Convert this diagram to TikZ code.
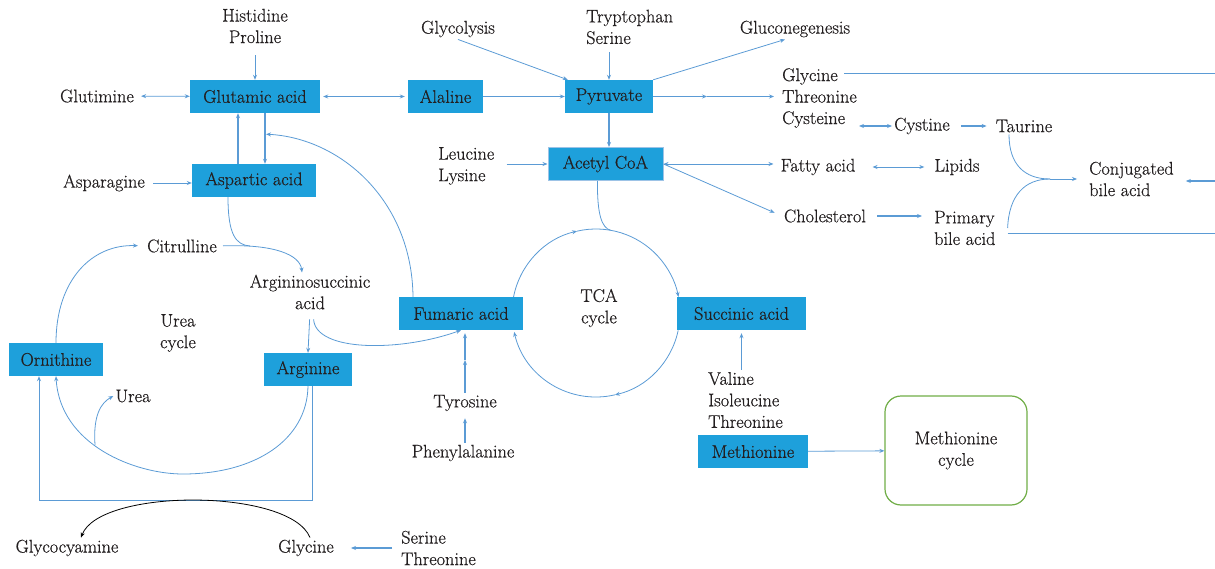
\documentclass[tikz,border=0pt]{standalone}
\usepackage{fontspec}
\setmainfont{Latin Modern Roman}[FakeBold=0.5]
\usepackage{tikz}
\usetikzlibrary{arrows.meta}
\definecolor{boxblue}{RGB}{30,160,219}
\definecolor{linkblue}{RGB}{91,155,213}
\definecolor{edgeblue}{RGB}{157,195,230}
\definecolor{cyclegreen}{RGB}{112,173,71}
\definecolor{txt}{RGB}{35,31,32}
\tikzset{
  box/.style={fill=boxblue,text=txt,minimum height=33pt,minimum width=#1,inner xsep=4pt},
  lbl/.style={text=txt,align=center,inner sep=2pt},
  link/.style={draw=linkblue,line width=0.8pt},
  arr/.style={link,->},
  thk/.style={line width=1.6pt},
}

\begin{document}
\begin{tikzpicture}[x=1pt,y=-1pt,>={Stealth[length=5pt,width=4pt]},
  every node/.append style={font=\fontsize{18.3}{21.5}\selectfont}]
\useasboundingbox (0,0) rectangle (1215,569);

% boxes
\node[box=130pt] (glu) at (255,96.5) {Glutamic acid};
\node[box=75pt] (ala) at (445.5,96.5) {Alaline};
\node[box=88pt] (pyr) at (609,96.5) {Pyruvate};
\node[box=124pt] (asp) at (254,180.5) {Aspartic acid};
\node[box=115pt,draw=edgeblue,line width=1pt] (aco) at (605.5,164) {Acetyl CoA};
\node[box=124pt] (fum) at (461,313.5) {Fumaric acid};
\node[box=129pt] (suc) at (741.5,313.5) {Succinic acid};
\node[box=94pt] (orn) at (56,359.5) {Ornithine};
\node[box=88pt] (arg) at (308,369.5) {Arginine};
\node[box=110pt] (met) at (753,451.5) {Methionine};
\node[lbl,draw=cyclegreen,line width=1.2pt,rounded corners=16pt,
  minimum width=142pt,minimum height=109pt] (metc) at (956,450.5) {Methionine\\cycle};

% labels
\node[lbl] (hp) at (255,26) {Histidine\\Proline};
\node[lbl] (glm) at (97,96) {Glutimine};
\node[lbl] (asn) at (104,183) {Asparagine};
\node[lbl] (gly) at (458,29) {Glycolysis};
\node[lbl,align=left,anchor=west] (trp) at (584,27) {Tryptophan\\Serine};
\node[lbl] (glc) at (795,29) {Gluconegenesis};
\node[lbl,align=left,anchor=west] (gtc) at (780,98) {Glycine\\Threonine\\Cysteine};
\node[lbl] (cys) at (922,126) {Cystine};
\node[lbl] (tau) at (1024,126) {Taurine};
\node[lbl] (fat) at (818,167) {Fatty acid};
\node[lbl] (lip) at (957,167) {Lipids};
\node[lbl] (chol) at (825,216) {Cholesterol};
\node[lbl,align=left,anchor=west] (pba) at (932,228) {Primary\\bile acid};
\node[lbl,align=left,anchor=west] (cba) at (1087,179) {Conjugated\\bile acid};
\node[lbl,align=left,anchor=west] (ll) at (436,166) {Leucine\\Lysine};
\node[lbl] (cit) at (182,246) {Citrulline};
\node[lbl] (asa) at (310,292) {Argininosuccinic\\acid};
\node[lbl] (uc) at (178,333) {Urea\\cycle};
\node[lbl] (tca) at (599,308) {TCA\\cycle};
\node[lbl] (urea) at (133,396) {Urea};
\node[lbl] (tyr) at (465,403) {Tyrosine};
\node[lbl] (phe) at (463,453) {Phenylalanine};
\node[lbl,align=left,anchor=west] (vit) at (706,400) {Valine\\Isoleucine\\Threonine};
\node[lbl] (gcy) at (67,548) {Glycocyamine};
\node[lbl] (glyc) at (306,548) {Glycine};
\node[lbl,align=left,anchor=west] (st) at (399,548) {Serine\\Threonine};

\coordinate (tcac) at (596,313);
\coordinate (tin) at (610.6,230.3);
\coordinate (pmid) at (707,96.5);
\coordinate (tmid) at (465,360);
\coordinate (rtop) at (1215,73);
\coordinate (rmid) at (1215,181);
\coordinate (rbot) at (1215,233);
\coordinate (bj) at (1050,179);
\coordinate (asj) at (250,246);
\coordinate (ub) at (95,445);

% top row
\draw[arr,shorten <=10pt] (hp.south) -- (glu.north);
\draw[arr,<->,shorten <=5pt] (glm) -- (glu);
\draw[arr,<->,shorten <=3pt,shorten >=3pt] (ala) -- (glu);
\draw[arr] (ala) -- (pyr);
\draw[arr] (gly.south) -- ([xshift=3pt]pyr.north west);
\draw[arr,shorten <=6pt] (trp.south -| pyr.north) -- (pyr.north);
\draw[arr] (pyr.north east) -- ([xshift=-10pt]glc.south);
\draw[arr,thk] (pyr) -- (pmid);
\draw[arr,thk,shorten >=6pt] (pmid) -- (pmid -| gtc.west);
\draw[arr,thk] (pyr.south) -- (pyr.south |- aco.north);
\draw[arr,shorten <=10pt] (ll.east |- aco) -- (aco);
\draw[arr,<->,shorten >=5pt] (aco.east) -- (aco.east -| fat.west);
\draw[arr,shorten >=8pt] (aco.east) -- (chol.west);

% bile acids
\draw[arr,thk,<->] (gtc.east |- cys) -- (cys);
\draw[arr,thk,shorten <=9pt,shorten >=7pt] (cys) -- (tau);
\draw[arr,<->,shorten <=15pt,shorten >=8pt] (fat) -- (lip);
\draw[arr,thk,shorten <=9pt,shorten >=10pt] (chol) -- (chol -| pba.west);
\draw[link] (rtop -| gtc.east) ++(-15,0) -- (rtop);
\draw[link] (rbot -| pba.east) ++(10,0) -- (rbot);
\draw[link] ([xshift=-15pt]tau.south) .. controls (1009,165) and (1025,179) .. (bj);
\draw[link] ([xshift=10pt]pba.east) .. controls (1009,195) and (1025,179) .. (bj);
\draw[arr,shorten >=10pt] (bj) -- (bj -| cba.west);
\draw[arr,thk,shorten >=10pt] (rmid) -- (rmid -| cba.east);

% urea cycle
\draw[arr,thk] ([xshift=-16pt]asp.north) -- ([xshift=-17pt]glu.south);
\draw[arr,thk] ([xshift=10pt]glu.south) -- ([xshift=11pt]asp.north);
\draw[arr,shorten <=6pt] (asn.east) -- (asp.west |- asn.east);
\draw[link] ([xshift=-26pt]asp.south) .. controls (228,235) and (236,245) .. (asj);
\draw[arr,shorten <=4pt] (cit.east) .. controls (275,244) and (300,255) .. ([xshift=-8pt]asa.north);
\draw[arr,shorten >=7pt] (orn.north) .. controls (56,280) and (92,244) .. (cit.west);
\draw[arr,shorten <=8pt] (asa.south) -- (arg.north);
\draw[arr,shorten <=8pt] ([xshift=3pt]asa.south) .. controls (316,352) and (400,352) .. (fum.south);
\draw[arr] ([xshift=-48pt]fum.north) .. controls (412,200) and (340,138) .. ([shift={(11,21)}]glu.south);
\draw[arr] (arg.south) .. controls (307,440) and (255,474) .. (183,474)
  .. controls (135,474) and (60,445) .. (orn.south);
\draw[arr] (ub) .. controls (93,415) and (101,403) .. (urea.west);
\draw[arr] ([xshift=4pt]arg.south) -- ++(0,114) -| ([xshift=-17pt]orn.south);
\draw[arr,draw=black] ([xshift=4pt]glyc.north) .. controls (290,488) and (100,488) .. ([xshift=14pt]gcy.north);
\draw[arr,thk,shorten <=7pt,shorten >=15pt] (st.west) -- (st.west -| glyc.east);

% TCA cycle
\draw[arr] (tcac) ++(-169:84) arc[start angle=-169,end angle=-103,radius=84];
\draw[arr] (tcac) ++(-103:84) arc[start angle=-103,end angle=-11,radius=84];
\draw[arr] (tcac) ++(12:84) arc[start angle=12,end angle=77,radius=84];
\draw[arr] (tcac) ++(77:84) arc[start angle=77,end angle=167,radius=84];
\draw[link] ([xshift=-8pt]aco.south) .. controls (597,215) and (602,228) .. (tin);
\draw[arr,thk] (tyr.north) -- (tmid);
\draw[arr,thk,shorten >=3pt] (tmid) -- (tmid |- fum.south);
\draw[arr,thk,shorten >=5pt] (phe.north -| tyr.north) -- (tyr.south);
\draw[arr,thk,shorten >=3pt] (vit.north -| suc.south) -- (suc.south);
\draw[arr] (met) -- (metc);
\end{tikzpicture}
\end{document}
